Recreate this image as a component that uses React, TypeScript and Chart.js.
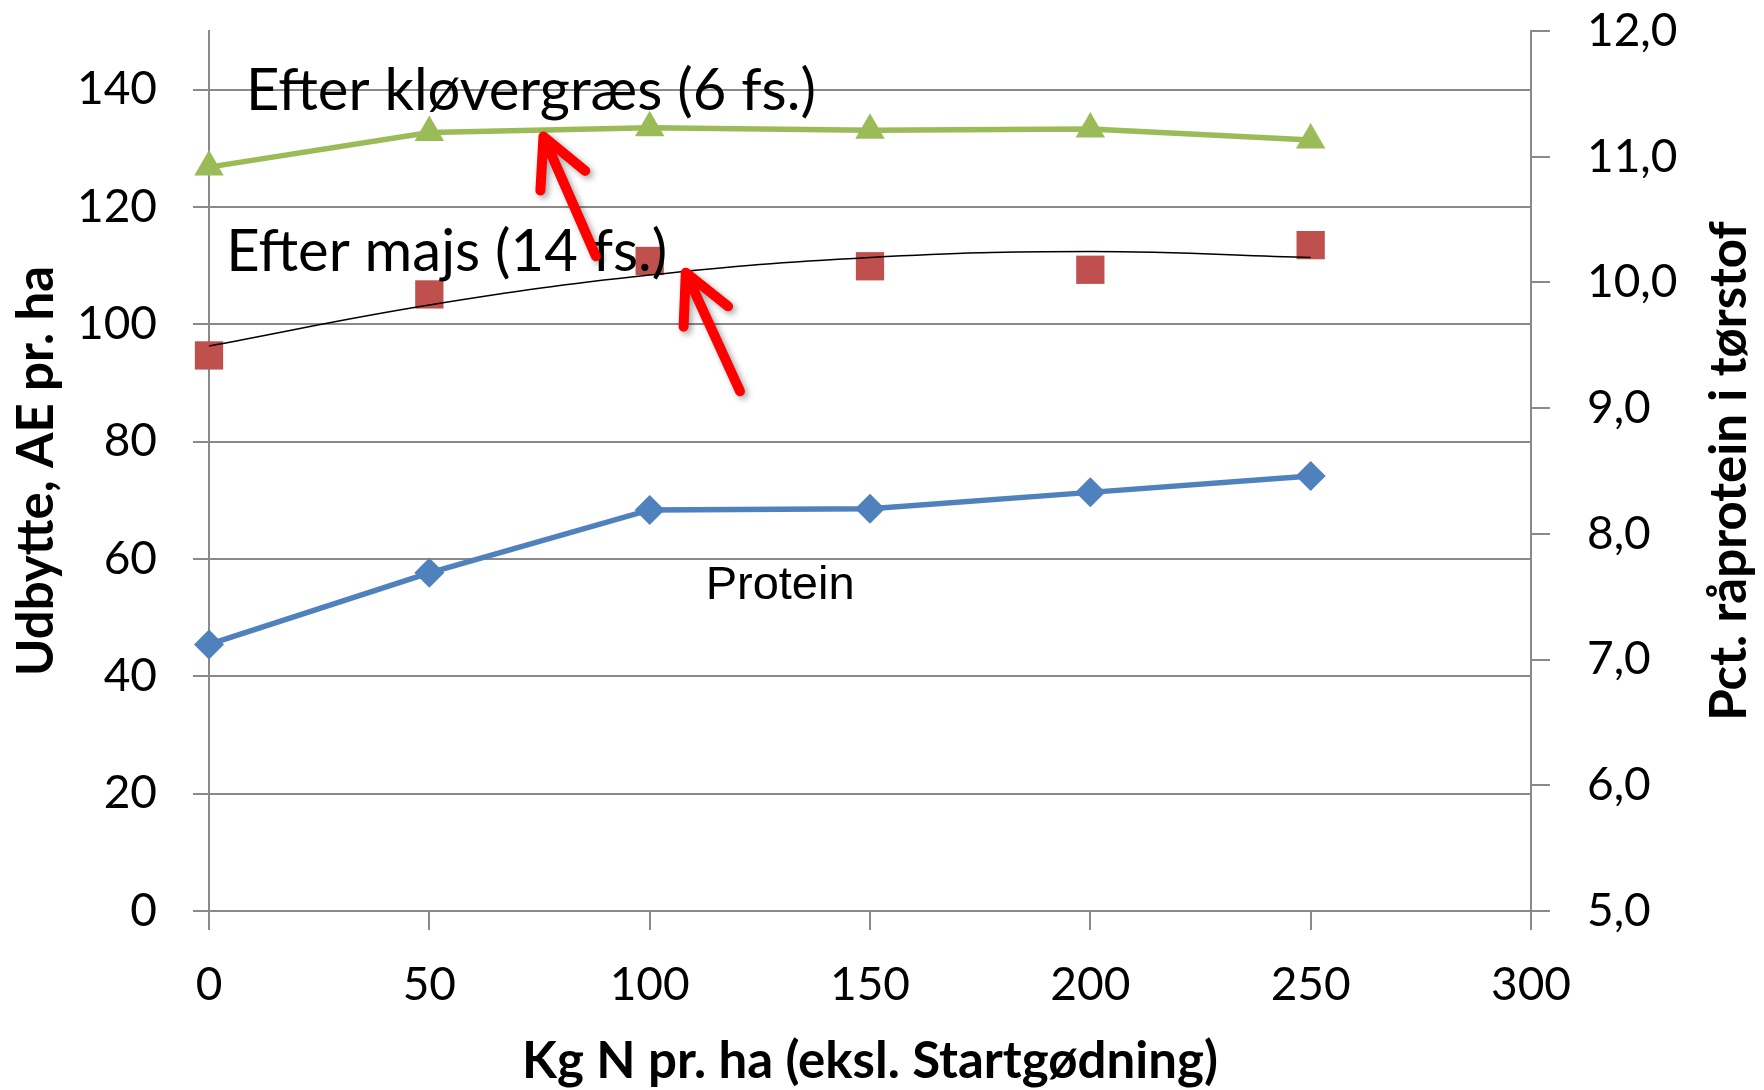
import React, { useEffect, useRef } from 'react';
import { Chart, registerables } from 'chart.js';

Chart.register(...registerables);

// ---- data ----
const nLevels = [0, 50, 100, 150, 200, 250];
const kloevergraesYield = [126.8, 132.7, 133.5, 133.1, 133.3, 131.4];
const majsYield = [94.7, 105.1, 110.8, 109.9, 109.3, 113.5];
const majsTrend = [96.3, 103.3, 108.4, 111.4, 112.4, 111.4];
const proteinPct = [7.12, 7.69, 8.19, 8.2, 8.33, 8.46];

const xTickValues = [0, 50, 100, 150, 200, 250, 300];
const yTickValues = [0, 20, 40, 60, 80, 100, 120, 140];
const y1TickValues = [5, 6, 7, 8, 9, 10, 11, 12];

const xTitle = 'Kg N pr. ha (eksl. Startgødning)';
const yTitle = 'Udbytte, AE pr. ha';
const y1Title = 'Pct. råprotein i tørstof';

const textNotes = [
  { text: 'Efter kløvergræs (6 fs.)', x: 8.4, y: 139.7, font: '58px Lato', align: 'left' },
  { text: 'Efter majs (14 fs.)', x: 3.9, y: 112.2, font: '58px Lato', align: 'left' },
  { text: 'Protein', x: 129.6, y: 55.4, font: '47px "Liberation Sans", Arial, sans-serif', align: 'center' },
];

const arrowNotes = [
  { fromX: 87.8, fromY: 111.6, toX: 75.9, toY: 132.0 },
  { fromX: 120.5, fromY: 88.6, toX: 108.2, toY: 108.8 },
];

const GRID = '#8a8a8a';
const TICK_FONT = { family: 'Lato', size: 46 };
const TITLE_FONT = { family: 'Lato', size: 51, weight: 'bold' as const, lineHeight: 1 };

const toPts = (ys: number[]) => nLevels.map((x, i) => ({ x, y: ys[i] }));

const notesPlugin = {
  id: 'notes',
  afterDatasetsDraw(chart: any) {
    const { ctx, scales } = chart;
    const sx = scales.x;
    const sy = scales.y;
    ctx.save();
    textNotes.forEach((n) => {
      ctx.font = n.font;
      ctx.fillStyle = '#000';
      ctx.textAlign = n.align;
      ctx.textBaseline = 'middle';
      ctx.fillText(n.text, sx.getPixelForValue(n.x), sy.getPixelForValue(n.y));
    });
    arrowNotes.forEach((a) => {
      const x0 = sx.getPixelForValue(a.fromX);
      const y0 = sy.getPixelForValue(a.fromY);
      const x1 = sx.getPixelForValue(a.toX);
      const y1 = sy.getPixelForValue(a.toY);
      const back = Math.atan2(y0 - y1, x0 - x1);
      const L = 54;
      ctx.save();
      ctx.strokeStyle = '#ff0000';
      ctx.lineWidth = 10;
      ctx.lineCap = 'round';
      ctx.lineJoin = 'round';
      ctx.shadowColor = 'rgba(0,0,0,0.35)';
      ctx.shadowBlur = 6;
      ctx.shadowOffsetX = 3;
      ctx.shadowOffsetY = 3;
      ctx.beginPath();
      ctx.moveTo(x0, y0);
      ctx.lineTo(x1, y1);
      [-1, 1].forEach((s) => {
        const ang = back + s * 0.47;
        ctx.moveTo(x1, y1);
        ctx.lineTo(x1 + L * Math.cos(ang), y1 + L * Math.sin(ang));
      });
      ctx.stroke();
      ctx.restore();
    });
    ctx.restore();
  },
  afterDraw(chart: any) {
    const { ctx, chartArea } = chart;
    ctx.save();
    ctx.translate(chart.width - 34, (chartArea.top + chartArea.bottom) / 2);
    ctx.rotate(-Math.PI / 2);
    ctx.font = 'bold 51px Lato';
    ctx.fillStyle = '#000';
    ctx.textAlign = 'center';
    ctx.textBaseline = 'middle';
    ctx.fillText(y1Title, 0, 0);
    ctx.restore();
  },
};

const noPadV = (s: any) => {
  s.paddingTop = 0;
  s.paddingBottom = 0;
};

export default function App() {
  const ref = useRef<HTMLCanvasElement>(null);

  useEffect(() => {
    if (!ref.current) return;
    const chart = new Chart(ref.current, {
      type: 'line',
      data: {
        datasets: [
          {
            label: 'Efter kløvergræs (6 fs.)',
            data: toPts(kloevergraesYield),
            yAxisID: 'y',
            borderColor: '#9BBB59',
            backgroundColor: '#9BBB59',
            borderWidth: 5.5,
            pointStyle: 'triangle',
            pointRadius: 17,
            pointBorderWidth: 0,
            clip: false,
            order: 3,
          },
          {
            label: 'Trend',
            data: toPts(majsTrend),
            yAxisID: 'y',
            borderColor: '#000000',
            borderWidth: 1.5,
            pointRadius: 0,
            tension: 0.4,
            clip: false,
            order: 1,
          },
          {
            label: 'Efter majs (14 fs.)',
            data: toPts(majsYield),
            yAxisID: 'y',
            showLine: false,
            borderColor: '#C0504D',
            backgroundColor: '#C0504D',
            pointStyle: 'rect',
            pointRadius: 20,
            pointBorderWidth: 0,
            clip: false,
            order: 2,
          },
          {
            label: 'Protein',
            data: toPts(proteinPct),
            yAxisID: 'y1',
            borderColor: '#4F81BD',
            backgroundColor: '#4F81BD',
            borderWidth: 5.5,
            pointStyle: 'rectRot',
            pointRadius: 15,
            pointBorderWidth: 0,
            clip: false,
            order: 4,
          },
        ],
      },
      options: {
        responsive: false,
        animation: false,
        layout: { padding: { top: 31, left: 0, right: 0, bottom: 0 } },
        plugins: {
          legend: { display: false },
          tooltip: { enabled: false },
        },
        scales: {
          x: {
            type: 'linear',
            min: 0,
            max: 300,
            afterBuildTicks: (axis: any) => {
              axis.ticks = xTickValues.map((v) => ({ value: v }));
            },
            afterFit: (s: any) => {
              s.height = 179;
              s.paddingLeft = 0;
              s.paddingRight = 0;
            },
            ticks: { font: TICK_FONT, color: '#000', padding: 28, autoSkip: false, maxRotation: 0 },
            grid: { drawOnChartArea: false, color: GRID, lineWidth: 2, tickLength: 19 },
            border: { color: GRID, width: 2 },
            title: { display: true, text: xTitle, font: TITLE_FONT, color: '#000', padding: { top: 0, bottom: 3 } },
          },
          y: {
            type: 'linear',
            position: 'left',
            min: 0,
            max: 150,
            afterBuildTicks: (axis: any) => {
              axis.ticks = yTickValues.map((v) => ({ value: v }));
            },
            afterFit: (s: any) => {
              s.width = 209;
              noPadV(s);
            },
            ticks: { font: TICK_FONT, color: '#000', padding: 36 },
            grid: { color: GRID, lineWidth: 2, tickLength: 16 },
            border: { color: GRID, width: 2 },
            title: { display: true, text: yTitle, font: TITLE_FONT, color: '#000', padding: { top: 11, bottom: 0 } },
          },
          y1: {
            type: 'linear',
            position: 'right',
            min: 5,
            max: 12,
            afterBuildTicks: (axis: any) => {
              axis.ticks = y1TickValues.map((v) => ({ value: v }));
            },
            afterFit: (s: any) => {
              s.width = 233;
              noPadV(s);
            },
            ticks: {
              font: TICK_FONT,
              color: '#000',
              padding: 37,
              callback: (v: any) => Number(v).toFixed(1).replace('.', ','),
            },
            grid: { drawOnChartArea: false, color: GRID, lineWidth: 2, tickLength: 19 },
            border: { color: GRID, width: 2 },
          },
        },
      } as any,
      plugins: [notesPlugin],
    });
    return () => chart.destroy();
  }, []);

  return (
    <div style={{ position: 'absolute', left: 0, top: 0, width: 1764, height: 1090, background: '#fff' }}>
      <canvas ref={ref} width={1764} height={1090} />
    </div>
  );
}
